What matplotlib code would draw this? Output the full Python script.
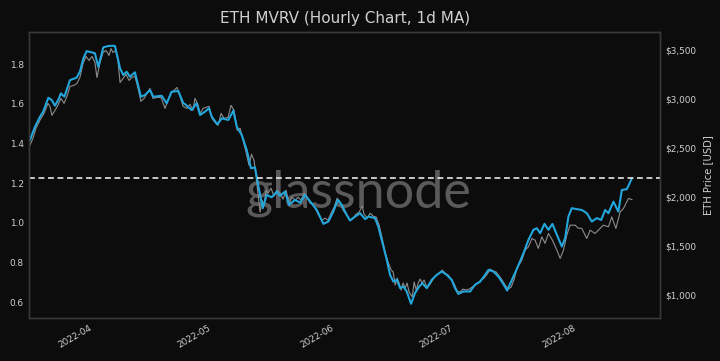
import pandas as pd
import matplotlib
matplotlib.use("Agg")
import matplotlib.pyplot as plt
import matplotlib.dates as mdates
from matplotlib.ticker import FuncFormatter

# MVRV, 1d MA (left axis)
mvrv_time = [
    "2022-03-16 00:00", "2022-03-17 06:00", "2022-03-18 12:00", "2022-03-19 08:00", "2022-03-20 15:00",
    "2022-03-21 11:00", "2022-03-22 07:00", "2022-03-23 03:00", "2022-03-23 19:00", "2022-03-24 16:00",
    "2022-03-26 02:00", "2022-03-27 18:00", "2022-03-28 14:00", "2022-03-29 11:00", "2022-03-30 07:00",
    "2022-03-31 13:00", "2022-04-01 09:00", "2022-04-02 05:00", "2022-04-03 12:00", "2022-04-04 18:00",
    "2022-04-05 18:00", "2022-04-06 10:00", "2022-04-07 17:00", "2022-04-08 12:00", "2022-04-09 09:00",
    "2022-04-10 05:00", "2022-04-11 11:00", "2022-04-12 23:00", "2022-04-14 00:00", "2022-04-15 06:00",
    "2022-04-16 02:00", "2022-04-18 05:00", "2022-04-19 11:00", "2022-04-20 17:00", "2022-04-22 09:00",
    "2022-04-23 16:00", "2022-04-24 02:00", "2022-04-25 18:00", "2022-04-27 00:00", "2022-04-27 21:00",
    "2022-04-29 03:00", "2022-04-30 03:00", "2022-04-30 19:00", "2022-05-02 05:00", "2022-05-03 08:00",
    "2022-05-05 00:00", "2022-05-06 06:00", "2022-05-07 03:00", "2022-05-08 09:00", "2022-05-09 15:00",
    "2022-05-10 17:00", "2022-05-11 17:00", "2022-05-12 18:00", "2022-05-13 16:00", "2022-05-14 16:00",
    "2022-05-15 22:00", "2022-05-17 05:00", "2022-05-18 00:00", "2022-05-19 07:00", "2022-05-20 07:00",
    "2022-05-21 19:00", "2022-05-23 02:00", "2022-05-24 08:00", "2022-05-25 20:00", "2022-05-27 07:00",
    "2022-05-28 23:00", "2022-05-30 05:00", "2022-05-31 11:00", "2022-06-01 14:00", "2022-06-02 14:00",
    "2022-06-03 20:00", "2022-06-04 16:00", "2022-06-05 23:00", "2022-06-07 05:00", "2022-06-08 11:00",
    "2022-06-09 07:00", "2022-06-10 23:00", "2022-06-11 19:00", "2022-06-13 02:00", "2022-06-13 22:00",
    "2022-06-14 18:00", "2022-06-15 14:00", "2022-06-16 11:00", "2022-06-17 07:00", "2022-06-18 03:00",
    "2022-06-18 23:00", "2022-06-20 01:00", "2022-06-21 01:00", "2022-06-22 02:00", "2022-06-22 22:00",
    "2022-06-24 00:00", "2022-06-25 06:00", "2022-06-26 13:00", "2022-06-27 19:00", "2022-06-29 01:00",
    "2022-06-30 07:00", "2022-07-01 03:00", "2022-07-01 23:00", "2022-07-03 06:00", "2022-07-04 22:00",
    "2022-07-06 04:00", "2022-07-07 11:00", "2022-07-08 17:00", "2022-07-09 13:00", "2022-07-10 19:00",
    "2022-07-12 01:00", "2022-07-13 14:00", "2022-07-14 06:00", "2022-07-16 17:00", "2022-07-18 09:00",
    "2022-07-19 15:00", "2022-07-20 21:00", "2022-07-21 18:00", "2022-07-22 14:00", "2022-07-23 16:00",
    "2022-07-24 16:00", "2022-07-25 16:00", "2022-07-26 19:00", "2022-07-28 01:00", "2022-07-28 21:00",
    "2022-07-29 17:00", "2022-07-30 13:00", "2022-08-02 02:00", "2022-08-03 08:00", "2022-08-04 14:00",
    "2022-08-05 21:00", "2022-08-06 23:00", "2022-08-07 23:00", "2022-08-08 19:00", "2022-08-10 01:00",
    "2022-08-11 07:00", "2022-08-12 04:00", "2022-08-13 10:00", "2022-08-14 17:00",
]
mvrv = [
    1.417, 1.483, 1.533, 1.560, 1.630, 1.619, 1.590, 1.619, 1.652, 1.635,
    1.719, 1.731, 1.761, 1.829, 1.865, 1.859, 1.854, 1.786, 1.884, 1.891,
    1.892, 1.891, 1.778, 1.745, 1.761, 1.736, 1.758, 1.635, 1.644, 1.669,
    1.635, 1.640, 1.602, 1.660, 1.664, 1.602, 1.598, 1.568, 1.602, 1.543,
    1.560, 1.577, 1.535, 1.496, 1.526, 1.518, 1.565, 1.484, 1.442, 1.367,
    1.274, 1.279, 1.165, 1.073, 1.140, 1.128, 1.157, 1.135, 1.157, 1.090,
    1.115, 1.101, 1.140, 1.101, 1.064, 0.994, 1.006, 1.056, 1.115, 1.090,
    1.039, 1.011, 1.031, 1.048, 1.018, 1.031, 1.023, 0.980, 0.880, 0.813,
    0.737, 0.703, 0.712, 0.670, 0.678, 0.653, 0.591, 0.645, 0.678, 0.695,
    0.670, 0.712, 0.737, 0.754, 0.737, 0.712, 0.670, 0.641, 0.653, 0.653,
    0.687, 0.703, 0.737, 0.762, 0.754, 0.729, 0.682, 0.658, 0.767, 0.846,
    0.913, 0.964, 0.972, 0.947, 0.994, 0.964, 0.994, 0.939, 0.880, 0.922,
    1.031, 1.073, 1.064, 1.048, 1.006, 1.023, 1.014, 1.064, 1.048, 1.106,
    1.056, 1.165, 1.169, 1.224,
]

# ETH price in USD (right axis)
price_time = [
    "2022-03-16 00:00", "2022-03-16 18:00", "2022-03-17 12:00", "2022-03-18 12:00", "2022-03-19 13:00",
    "2022-03-20 13:00", "2022-03-21 01:00", "2022-03-21 13:00", "2022-03-22 07:00", "2022-03-23 01:00",
    "2022-03-23 19:00", "2022-03-24 14:00", "2022-03-25 08:00", "2022-03-26 02:00", "2022-03-27 02:00",
    "2022-03-27 20:00", "2022-03-28 14:00", "2022-03-29 09:00", "2022-03-30 03:00", "2022-03-30 21:00",
    "2022-03-31 15:00", "2022-04-01 09:00", "2022-04-01 21:00", "2022-04-02 16:00", "2022-04-03 10:00",
    "2022-04-04 04:00", "2022-04-04 22:00", "2022-04-05 10:00", "2022-04-05 22:00", "2022-04-06 16:00",
    "2022-04-07 04:00", "2022-04-07 17:00", "2022-04-08 11:00", "2022-04-09 05:00", "2022-04-09 23:00",
    "2022-04-10 17:00", "2022-04-11 11:00", "2022-04-12 06:00", "2022-04-12 23:00", "2022-04-13 18:00",
    "2022-04-14 12:00", "2022-04-15 06:00", "2022-04-16 00:00", "2022-04-17 00:00", "2022-04-18 01:00",
    "2022-04-19 01:00", "2022-04-19 19:00", "2022-04-20 13:00", "2022-04-21 07:00", "2022-04-22 01:00",
    "2022-04-22 20:00", "2022-04-23 14:00", "2022-04-24 14:00", "2022-04-25 08:00", "2022-04-26 02:00",
    "2022-04-26 14:00", "2022-04-27 08:00", "2022-04-27 21:00", "2022-04-28 15:00", "2022-04-29 09:00",
    "2022-04-30 03:00", "2022-04-30 21:00", "2022-05-01 15:00", "2022-05-02 10:00", "2022-05-03 04:00",
    "2022-05-03 22:00", "2022-05-04 22:00", "2022-05-05 16:00", "2022-05-06 10:00", "2022-05-07 05:00",
    "2022-05-07 23:00", "2022-05-08 17:00", "2022-05-09 11:00", "2022-05-10 05:00", "2022-05-10 20:00",
    "2022-05-11 11:00", "2022-05-11 23:00", "2022-05-12 12:00", "2022-05-13 00:00", "2022-05-13 12:00",
    "2022-05-14 00:00", "2022-05-14 12:00", "2022-05-15 00:00", "2022-05-15 18:00", "2022-05-16 12:00",
    "2022-05-17 07:00", "2022-05-18 01:00", "2022-05-18 19:00", "2022-05-19 13:00", "2022-05-20 07:00",
    "2022-05-21 01:00", "2022-05-21 20:00", "2022-05-22 14:00", "2022-05-23 08:00", "2022-05-24 02:00",
    "2022-05-24 20:00", "2022-05-25 14:00", "2022-05-26 09:00", "2022-05-27 03:00", "2022-05-27 21:00",
    "2022-05-28 15:00", "2022-05-29 09:00", "2022-05-30 03:00", "2022-05-30 21:00", "2022-05-31 16:00",
    "2022-06-01 10:00", "2022-06-02 04:00", "2022-06-02 22:00", "2022-06-03 16:00", "2022-06-04 17:00",
    "2022-06-05 11:00", "2022-06-06 05:00", "2022-06-06 23:00", "2022-06-07 17:00", "2022-06-08 05:00",
    "2022-06-08 23:00", "2022-06-09 18:00", "2022-06-10 12:00", "2022-06-11 06:00", "2022-06-12 00:00",
    "2022-06-12 18:00", "2022-06-13 12:00", "2022-06-14 06:00", "2022-06-15 01:00", "2022-06-15 13:00",
    "2022-06-16 01:00", "2022-06-16 13:00", "2022-06-17 01:00", "2022-06-17 13:00", "2022-06-18 01:00",
    "2022-06-18 13:00", "2022-06-19 01:00", "2022-06-19 13:00", "2022-06-20 08:00", "2022-06-20 20:00",
    "2022-06-21 08:00", "2022-06-21 20:00", "2022-06-22 08:00", "2022-06-22 20:00", "2022-06-23 08:00",
    "2022-06-24 02:00", "2022-06-24 21:00", "2022-06-25 15:00", "2022-06-26 09:00", "2022-06-27 03:00",
    "2022-06-27 21:00", "2022-06-28 15:00", "2022-06-29 10:00", "2022-06-30 04:00", "2022-06-30 22:00",
    "2022-07-01 16:00", "2022-07-02 10:00", "2022-07-03 04:00", "2022-07-03 23:00", "2022-07-04 17:00",
    "2022-07-05 11:00", "2022-07-06 05:00", "2022-07-06 23:00", "2022-07-07 17:00", "2022-07-08 11:00",
    "2022-07-09 06:00", "2022-07-10 00:00", "2022-07-10 18:00", "2022-07-11 12:00", "2022-07-12 06:00",
    "2022-07-13 00:00", "2022-07-13 18:00", "2022-07-14 13:00", "2022-07-15 07:00", "2022-07-16 01:00",
    "2022-07-16 17:00", "2022-07-17 23:00", "2022-07-18 19:00", "2022-07-19 15:00", "2022-07-20 12:00",
    "2022-07-21 07:00", "2022-07-22 03:00", "2022-07-23 00:00", "2022-07-23 20:00", "2022-07-24 16:00",
    "2022-07-25 16:00", "2022-07-26 19:00", "2022-07-27 15:00", "2022-07-28 11:00", "2022-07-29 07:00",
    "2022-07-30 03:00", "2022-07-31 09:00", "2022-08-01 04:00", "2022-08-02 02:00", "2022-08-03 08:00",
    "2022-08-04 04:00", "2022-08-05 10:00", "2022-08-06 06:00", "2022-08-07 12:00", "2022-08-08 19:00",
    "2022-08-09 15:00", "2022-08-10 16:00", "2022-08-11 18:00", "2022-08-12 14:00", "2022-08-13 20:00",
    "2022-08-14 17:00",
]
price = [
    2531, 2602, 2704, 2786, 2857, 2959, 2929, 2837, 2888, 2939,
    3010, 2959, 3031, 3133, 3143, 3163, 3224, 3367, 3439, 3398,
    3439, 3378, 3224, 3378, 3480, 3500, 3449, 3520, 3480, 3500,
    3398, 3173, 3214, 3255, 3194, 3224, 3235, 3112, 2980, 3010,
    3061, 3112, 3010, 3020, 3020, 2908, 2990, 3071, 3092, 3122,
    3031, 2929, 2908, 2949, 2888, 3010, 2949, 2857, 2908, 2918,
    2929, 2806, 2765, 2735, 2857, 2806, 2816, 2939, 2888, 2684,
    2704, 2582, 2459, 2327, 2439, 2378, 2224, 2020, 1847, 1969,
    1918, 2071, 2041, 2092, 2010, 2071, 2041, 1980, 2071, 1939,
    2000, 1969, 2000, 1969, 2041, 2000, 1939, 1929, 1867, 1806,
    1765, 1786, 1765, 1837, 1898, 1990, 1949, 1867, 1827, 1765,
    1786, 1827, 1847, 1908, 1827, 1786, 1837, 1806, 1796, 1714,
    1582, 1439, 1337, 1255, 1235, 1102, 1173, 1122, 1051, 1122,
    1071, 1122, 1031, 980, 1133, 1051, 1122, 1163, 1122, 1153,
    1071, 1112, 1163, 1204, 1224, 1255, 1224, 1204, 1163, 1112,
    1041, 1031, 1061, 1051, 1061, 1082, 1102, 1122, 1153, 1173,
    1214, 1265, 1245, 1235, 1194, 1153, 1102, 1061, 1082, 1163,
    1272, 1357, 1459, 1493, 1578, 1561, 1477, 1595, 1528, 1630,
    1561, 1459, 1374, 1459, 1612, 1714, 1714, 1684, 1681, 1578,
    1663, 1629, 1663, 1714, 1697, 1799, 1681, 1850, 1885, 1987,
    1976,
]

current_mvrv = 1.224
title = "ETH MVRV (Hourly Chart, 1d MA)"

bg = "#0c0c0c"
fg = "#d0d0d0"

mvrv_t = pd.to_datetime(mvrv_time)
price_t = pd.to_datetime(price_time)

fig = plt.figure(figsize=(7.2, 3.61), dpi=100, facecolor=bg)
ax = fig.add_axes([0.0407, 0.1183, 0.876, 0.7939])
ax2 = ax.twinx()

# price axis underneath, MVRV axis on top
ax2.patch.set_visible(True)
ax2.set_facecolor(bg)
ax.patch.set_visible(False)
ax.set_zorder(ax2.get_zorder() + 1)

ax2.plot(price_t, price, color="#8c8c8c", lw=0.8)
ax.plot(mvrv_t, mvrv, color="#22a6dc", lw=1.5)
ax.axhline(current_mvrv, color="#e8e8e8", lw=1.2, ls=(0, (3.5, 2.2)))

ax2.text(0.522, 0.386, "glassnode", transform=ax2.transAxes, ha="center",
         va="baseline", fontsize=37.5, family="Lato", color="#5a5a5a", zorder=0.5)

ax.set_xlim(pd.Timestamp("2022-03-15 20:00"), pd.Timestamp("2022-08-21 19:00"))
ax.set_ylim(0.518, 1.963)
ax2.set_ylim(762, 3692)

ax.set_yticks([0.6, 0.8, 1.0, 1.2, 1.4, 1.6, 1.8])
ax2.set_yticks([1000, 1500, 2000, 2500, 3000, 3500])
ax2.yaxis.set_major_formatter(FuncFormatter(lambda v, p: "${:,.0f}".format(v)))
ax.xaxis.set_major_locator(mdates.MonthLocator())
ax.xaxis.set_major_formatter(mdates.DateFormatter("%Y-%m"))

for a in (ax, ax2):
    a.tick_params(colors=fg, labelsize=6.4, length=0, pad=4)
    for s in a.spines.values():
        s.set_color("#383838")
        s.set_linewidth(1.0)
for lbl in ax.get_xticklabels():
    lbl.set_rotation(30)
    lbl.set_ha("right")

ax2.set_ylabel("ETH Price [USD]", color=fg, fontsize=7.2, labelpad=5)
ax.set_title(title, color=fg, fontsize=11, pad=6)

fig.savefig("out.png", dpi=100, facecolor=bg)
